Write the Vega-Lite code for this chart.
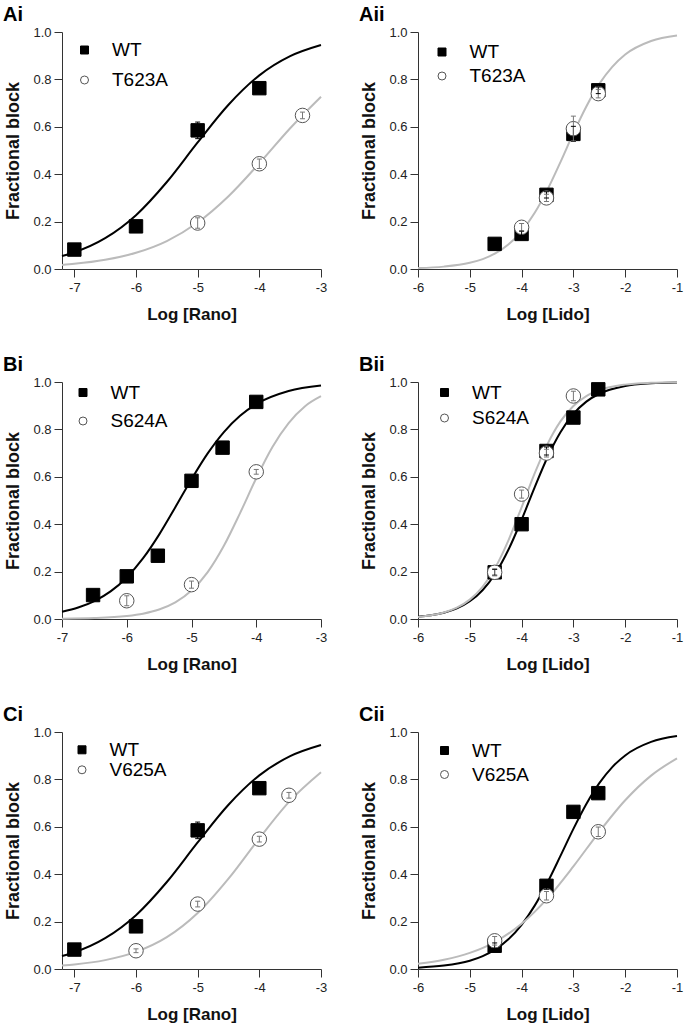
{
"$schema": "https://vega.github.io/schema/vega-lite/v6.json",
"background": "white",
"padding": {"left": 3, "top": 5, "right": 5, "bottom": 5},
"datasets": {
"curves": [
{"panel":"Ai","series":"WT","x":-7.2,"y":0.0545},{"panel":"Ai","series":"WT","x":-7,"y":0.0704},{"panel":"Ai","series":"WT","x":-6.5,"y":0.130},{"panel":"Ai","series":"WT","x":-6,"y":0.227},{"panel":"Ai","series":"WT","x":-5.5,"y":0.367},{"panel":"Ai","series":"WT","x":-5,"y":0.534},{"panel":"Ai","series":"WT","x":-4.5,"y":0.693},{"panel":"Ai","series":"WT","x":-4,"y":0.817},{"panel":"Ai","series":"WT","x":-3.5,"y":0.898},{"panel":"Ai","series":"WT","x":-3,"y":0.945},
{"panel":"Ai","series":"T623A","x":-7.2,"y":0.0172},{"panel":"Ai","series":"T623A","x":-7,"y":0.0217},{"panel":"Ai","series":"T623A","x":-6.5,"y":0.0388},{"panel":"Ai","series":"T623A","x":-6,"y":0.0685},{"panel":"Ai","series":"T623A","x":-5.5,"y":0.118},{"panel":"Ai","series":"T623A","x":-5,"y":0.196},{"panel":"Ai","series":"T623A","x":-4.5,"y":0.307},{"panel":"Ai","series":"T623A","x":-4,"y":0.446},{"panel":"Ai","series":"T623A","x":-3.5,"y":0.594},{"panel":"Ai","series":"T623A","x":-3,"y":0.727},
{"panel":"Aii","series":"T623A","x":-6,"y":0.0038},{"panel":"Aii","series":"T623A","x":-5.5,"y":0.0100},{"panel":"Aii","series":"T623A","x":-5,"y":0.0261},{"panel":"Aii","series":"T623A","x":-4.75,"y":0.0418},{"panel":"Aii","series":"T623A","x":-4.5,"y":0.0665},{"panel":"Aii","series":"T623A","x":-4.25,"y":0.104},{"panel":"Aii","series":"T623A","x":-4,"y":0.159},{"panel":"Aii","series":"T623A","x":-3.75,"y":0.236},{"panel":"Aii","series":"T623A","x":-3.5,"y":0.335},{"panel":"Aii","series":"T623A","x":-3.25,"y":0.451},{"panel":"Aii","series":"T623A","x":-3,"y":0.573},{"panel":"Aii","series":"T623A","x":-2.75,"y":0.686},{"panel":"Aii","series":"T623A","x":-2.5,"y":0.781},{"panel":"Aii","series":"T623A","x":-2.25,"y":0.853},{"panel":"Aii","series":"T623A","x":-2,"y":0.905},{"panel":"Aii","series":"T623A","x":-1.5,"y":0.962},{"panel":"Aii","series":"T623A","x":-1,"y":0.985},
{"panel":"Bi","series":"WT","x":-7,"y":0.0305},{"panel":"Bi","series":"WT","x":-6.75,"y":0.0483},{"panel":"Bi","series":"WT","x":-6.5,"y":0.0756},{"panel":"Bi","series":"WT","x":-6.25,"y":0.1165},{"panel":"Bi","series":"WT","x":-6,"y":0.1754},{"panel":"Bi","series":"WT","x":-5.75,"y":0.2554},{"panel":"Bi","series":"WT","x":-5.5,"y":0.3561},{"panel":"Bi","series":"WT","x":-5.25,"y":0.4714},{"panel":"Bi","series":"WT","x":-5,"y":0.5898},{"panel":"Bi","series":"WT","x":-4.75,"y":0.6987},{"panel":"Bi","series":"WT","x":-4.5,"y":0.7889},{"panel":"Bi","series":"WT","x":-4.25,"y":0.8577},{"panel":"Bi","series":"WT","x":-4,"y":0.9067},{"panel":"Bi","series":"WT","x":-3.5,"y":0.9619},{"panel":"Bi","series":"WT","x":-3,"y":0.985},
{"panel":"Bi","series":"S624A","x":-7,"y":0.0012},{"panel":"Bi","series":"S624A","x":-6.5,"y":0.0039},{"panel":"Bi","series":"S624A","x":-6,"y":0.0126},{"panel":"Bi","series":"S624A","x":-5.75,"y":0.0225},{"panel":"Bi","series":"S624A","x":-5.5,"y":0.040},{"panel":"Bi","series":"S624A","x":-5.25,"y":0.0701},{"panel":"Bi","series":"S624A","x":-5,"y":0.120},{"panel":"Bi","series":"S624A","x":-4.75,"y":0.198},{"panel":"Bi","series":"S624A","x":-4.5,"y":0.309},{"panel":"Bi","series":"S624A","x":-4.25,"y":0.447},{"panel":"Bi","series":"S624A","x":-4,"y":0.594},{"panel":"Bi","series":"S624A","x":-3.75,"y":0.726},{"panel":"Bi","series":"S624A","x":-3.5,"y":0.827},{"panel":"Bi","series":"S624A","x":-3.25,"y":0.897},{"panel":"Bi","series":"S624A","x":-3,"y":0.940},
{"panel":"Bii","series":"WT","x":-6,"y":0.009},{"panel":"Bii","series":"WT","x":-5.75,"y":0.0154},{"panel":"Bii","series":"WT","x":-5.5,"y":0.0264},{"panel":"Bii","series":"WT","x":-5.25,"y":0.0447},{"panel":"Bii","series":"WT","x":-5,"y":0.0748},{"panel":"Bii","series":"WT","x":-4.75,"y":0.1225},{"panel":"Bii","series":"WT","x":-4.5,"y":0.1944},{"panel":"Bii","series":"WT","x":-4.25,"y":0.2942},{"panel":"Bii","series":"WT","x":-4,"y":0.4188},{"panel":"Bii","series":"WT","x":-3.75,"y":0.5545},{"panel":"Bii","series":"WT","x":-3.5,"y":0.6826},{"panel":"Bii","series":"WT","x":-3.25,"y":0.7879},{"panel":"Bii","series":"WT","x":-3,"y":0.8652},{"panel":"Bii","series":"WT","x":-2.75,"y":0.9173},{"panel":"Bii","series":"WT","x":-2.5,"y":0.9504},{"panel":"Bii","series":"WT","x":-2,"y":0.9828},{"panel":"Bii","series":"WT","x":-1.5,"y":0.9942},{"panel":"Bii","series":"WT","x":-1,"y":0.998},
{"panel":"Bii","series":"S624A","x":-6,"y":0.0088},{"panel":"Bii","series":"S624A","x":-5.75,"y":0.0156},{"panel":"Bii","series":"S624A","x":-5.5,"y":0.0274},{"panel":"Bii","series":"S624A","x":-5.25,"y":0.0477},{"panel":"Bii","series":"S624A","x":-5,"y":0.0818},{"panel":"Bii","series":"S624A","x":-4.75,"y":0.1368},{"panel":"Bii","series":"S624A","x":-4.5,"y":0.2199},{"panel":"Bii","series":"S624A","x":-4.25,"y":0.3339},{"panel":"Bii","series":"S624A","x":-4,"y":0.4712},{"panel":"Bii","series":"S624A","x":-3.75,"y":0.6131},{"panel":"Bii","series":"S624A","x":-3.5,"y":0.7381},{"panel":"Bii","series":"S624A","x":-3.25,"y":0.8337},{"panel":"Bii","series":"S624A","x":-3,"y":0.8991},{"panel":"Bii","series":"S624A","x":-2.75,"y":0.9407},{"panel":"Bii","series":"S624A","x":-2.5,"y":0.9657},{"panel":"Bii","series":"S624A","x":-2,"y":0.9889},{"panel":"Bii","series":"S624A","x":-1.5,"y":0.9965},{"panel":"Bii","series":"S624A","x":-1,"y":0.9989},
{"panel":"Ci","series":"WT","x":-7.2,"y":0.0545},{"panel":"Ci","series":"WT","x":-7,"y":0.0704},{"panel":"Ci","series":"WT","x":-6.5,"y":0.130},{"panel":"Ci","series":"WT","x":-6,"y":0.227},{"panel":"Ci","series":"WT","x":-5.5,"y":0.367},{"panel":"Ci","series":"WT","x":-5,"y":0.534},{"panel":"Ci","series":"WT","x":-4.5,"y":0.693},{"panel":"Ci","series":"WT","x":-4,"y":0.817},{"panel":"Ci","series":"WT","x":-3.5,"y":0.898},{"panel":"Ci","series":"WT","x":-3,"y":0.945},
{"panel":"Ci","series":"V625A","x":-7.2,"y":0.0146},{"panel":"Ci","series":"V625A","x":-7,"y":0.0191},{"panel":"Ci","series":"V625A","x":-6.5,"y":0.0374},{"panel":"Ci","series":"V625A","x":-6,"y":0.0720},{"panel":"Ci","series":"V625A","x":-5.5,"y":0.1341},{"panel":"Ci","series":"V625A","x":-5,"y":0.2361},{"panel":"Ci","series":"V625A","x":-4.5,"y":0.3814},{"panel":"Ci","series":"V625A","x":-4,"y":0.5517},{"panel":"Ci","series":"V625A","x":-3.5,"y":0.7106},{"panel":"Ci","series":"V625A","x":-3,"y":0.8304},
{"panel":"Cii","series":"WT","x":-6,"y":0.0057},{"panel":"Cii","series":"WT","x":-5.5,"y":0.0143},{"panel":"Cii","series":"WT","x":-5,"y":0.035},{"panel":"Cii","series":"WT","x":-4.75,"y":0.0544},{"panel":"Cii","series":"WT","x":-4.5,"y":0.0836},{"panel":"Cii","series":"WT","x":-4.25,"y":0.1263},{"panel":"Cii","series":"WT","x":-4,"y":0.1864},{"panel":"Cii","series":"WT","x":-3.75,"y":0.2664},{"panel":"Cii","series":"WT","x":-3.5,"y":0.3652},{"panel":"Cii","series":"WT","x":-3.25,"y":0.4771},{"panel":"Cii","series":"WT","x":-3,"y":0.5911},{"panel":"Cii","series":"WT","x":-2.75,"y":0.6961},{"panel":"Cii","series":"WT","x":-2.5,"y":0.7841},{"panel":"Cii","series":"WT","x":-2.25,"y":0.852},{"panel":"Cii","series":"WT","x":-2,"y":0.9012},{"panel":"Cii","series":"WT","x":-1.5,"y":0.9582},{"panel":"Cii","series":"WT","x":-1,"y":0.9829},
{"panel":"Cii","series":"V625A","x":-6,"y":0.022},{"panel":"Cii","series":"V625A","x":-5.5,"y":0.039},{"panel":"Cii","series":"V625A","x":-5,"y":0.068},{"panel":"Cii","series":"V625A","x":-4.5,"y":0.116},{"panel":"Cii","series":"V625A","x":-4,"y":0.191},{"panel":"Cii","series":"V625A","x":-3.5,"y":0.298},{"panel":"Cii","series":"V625A","x":-3,"y":0.433},{"panel":"Cii","series":"V625A","x":-2.5,"y":0.579},{"panel":"Cii","series":"V625A","x":-2,"y":0.712},{"panel":"Cii","series":"V625A","x":-1.5,"y":0.816},{"panel":"Cii","series":"V625A","x":-1,"y":0.889}
],
"points": [
{"panel":"Ai","series":"WT","x":-7,"y":0.082,"lo":0.072,"hi":0.092},{"panel":"Ai","series":"WT","x":-6,"y":0.18,"lo":0.17,"hi":0.19},{"panel":"Ai","series":"WT","x":-5,"y":0.585,"lo":0.55,"hi":0.62},{"panel":"Ai","series":"WT","x":-4,"y":0.763,"lo":0.748,"hi":0.778},
{"panel":"Ai","series":"T623A","x":-5,"y":0.194,"lo":0.172,"hi":0.216},{"panel":"Ai","series":"T623A","x":-4,"y":0.444,"lo":0.424,"hi":0.464},{"panel":"Ai","series":"T623A","x":-3.3,"y":0.648,"lo":0.634,"hi":0.662},
{"panel":"Aii","series":"WT","x":-4.52,"y":0.106,"lo":0.096,"hi":0.116},{"panel":"Aii","series":"WT","x":-4,"y":0.148,"lo":0.136,"hi":0.16},{"panel":"Aii","series":"WT","x":-3.52,"y":0.313,"lo":0.3,"hi":0.326},{"panel":"Aii","series":"WT","x":-3,"y":0.57,"lo":0.538,"hi":0.602},{"panel":"Aii","series":"WT","x":-2.52,"y":0.754,"lo":0.74,"hi":0.768},
{"panel":"Aii","series":"T623A","x":-4,"y":0.176,"lo":0.16,"hi":0.192},{"panel":"Aii","series":"T623A","x":-3.52,"y":0.30,"lo":0.285,"hi":0.315},{"panel":"Aii","series":"T623A","x":-3,"y":0.592,"lo":0.54,"hi":0.645},{"panel":"Aii","series":"T623A","x":-2.52,"y":0.74,"lo":0.722,"hi":0.758},
{"panel":"Bi","series":"WT","x":-6.52,"y":0.101,"lo":0.081,"hi":0.121},{"panel":"Bi","series":"WT","x":-6,"y":0.18,"lo":0.16,"hi":0.2},{"panel":"Bi","series":"WT","x":-5.52,"y":0.267,"lo":0.245,"hi":0.289},{"panel":"Bi","series":"WT","x":-5,"y":0.583,"lo":0.563,"hi":0.603},{"panel":"Bi","series":"WT","x":-4.52,"y":0.723,"lo":0.701,"hi":0.745},{"panel":"Bi","series":"WT","x":-4,"y":0.916,"lo":0.896,"hi":0.936},
{"panel":"Bi","series":"S624A","x":-6,"y":0.077,"lo":0.056,"hi":0.098},{"panel":"Bi","series":"S624A","x":-5,"y":0.145,"lo":0.13,"hi":0.16},{"panel":"Bi","series":"S624A","x":-4,"y":0.621,"lo":0.611,"hi":0.631},
{"panel":"Bii","series":"WT","x":-4.52,"y":0.197,"lo":0.185,"hi":0.209},{"panel":"Bii","series":"WT","x":-4,"y":0.40,"lo":0.386,"hi":0.414},{"panel":"Bii","series":"WT","x":-3.52,"y":0.709,"lo":0.692,"hi":0.726},{"panel":"Bii","series":"WT","x":-3,"y":0.85,"lo":0.836,"hi":0.864},{"panel":"Bii","series":"WT","x":-2.52,"y":0.969,"lo":0.959,"hi":0.979},
{"panel":"Bii","series":"S624A","x":-4.52,"y":0.197,"lo":0.182,"hi":0.212},{"panel":"Bii","series":"S624A","x":-4,"y":0.527,"lo":0.51,"hi":0.544},{"panel":"Bii","series":"S624A","x":-3.52,"y":0.70,"lo":0.684,"hi":0.716},{"panel":"Bii","series":"S624A","x":-3,"y":0.941,"lo":0.921,"hi":0.961},
{"panel":"Ci","series":"WT","x":-7,"y":0.082,"lo":0.072,"hi":0.092},{"panel":"Ci","series":"WT","x":-6,"y":0.18,"lo":0.17,"hi":0.19},{"panel":"Ci","series":"WT","x":-5,"y":0.585,"lo":0.55,"hi":0.62},{"panel":"Ci","series":"WT","x":-4,"y":0.763,"lo":0.748,"hi":0.778},
{"panel":"Ci","series":"V625A","x":-6,"y":0.077,"lo":0.069,"hi":0.085},{"panel":"Ci","series":"V625A","x":-5,"y":0.274,"lo":0.262,"hi":0.286},{"panel":"Ci","series":"V625A","x":-4,"y":0.548,"lo":0.536,"hi":0.56},{"panel":"Ci","series":"V625A","x":-3.52,"y":0.733,"lo":0.721,"hi":0.745},
{"panel":"Cii","series":"WT","x":-4.52,"y":0.098,"lo":0.086,"hi":0.11},{"panel":"Cii","series":"WT","x":-3.52,"y":0.351,"lo":0.336,"hi":0.366},{"panel":"Cii","series":"WT","x":-3,"y":0.663,"lo":0.645,"hi":0.681},{"panel":"Cii","series":"WT","x":-2.52,"y":0.742,"lo":0.724,"hi":0.76},
{"panel":"Cii","series":"V625A","x":-4.52,"y":0.119,"lo":0.101,"hi":0.137},{"panel":"Cii","series":"V625A","x":-3.52,"y":0.309,"lo":0.291,"hi":0.327},{"panel":"Cii","series":"V625A","x":-2.52,"y":0.579,"lo":0.559,"hi":0.599}
]
},
"columns": 2,
"spacing": {"row": 113, "column": 97},
"bounds": "flush",
"resolve": {"scale": {"x": "independent", "y": "independent", "shape": "independent", "fill": "independent", "stroke": "independent"}, "legend": {"shape": "independent", "fill": "independent", "stroke": "independent"}, "axis": {"x": "independent", "y": "independent"}},
"concat": [
{"width":259,"height":237,
 "title":{"text":"Ai","anchor":"start","frame":"group","dx":-59,"fontSize":20,"fontWeight":"bold","font":"Liberation Sans","color":"#000","offset":1},
 "layer":[
  {"data":{"name":"curves"},"transform":[{"filter":"datum.panel==='Ai'"}],"mark":{"type":"line","interpolate":"monotone","strokeWidth":2},
   "encoding":{"x":{"field":"x","type":"quantitative","scale":{"domain":[-7.2,-3],"nice":false,"zero":false},"axis":{"title":"Log [Rano]","values":[-7,-6.5,-6,-5.5,-5,-4.5,-4,-3.5,-3],"labelExpr":"datum.value % 1 == 0 ? '-' + abs(datum.value) : ''","tickSize":{"condition":{"test":"datum.value % 1 == 0","value":8},"value":4}}},
    "y":{"field":"y","type":"quantitative","scale":{"domain":[0,1],"nice":false},"axis":{"title":"Fractional block","values":[0,0.1,0.2,0.3,0.4,0.5,0.6,0.7,0.8,0.9,1],"labelExpr":"round(datum.value*10) % 2 == 0 ? format(datum.value, '.1f') : ''","tickSize":{"condition":{"test":"round(datum.value*10) % 2 == 0","value":8},"value":4}}},
    "detail":{"field":"series","type":"nominal"},
    "color":{"condition":{"test":"datum.series === 'WT'","value":"#000"},"value":"#bbbbbb"}}},
  {"data":{"name":"points"},"transform":[{"filter":"datum.panel==='Ai'"}],"mark":{"type":"point","strokeWidth":1,"opacity":1},
   "encoding":{"x":{"field":"x","type":"quantitative"},"y":{"field":"y","type":"quantitative"},
    "shape":{"field":"series","type":"nominal","scale":{"domain":["WT","T623A"],"range":["square","circle"]},"legend":{"title":null,"orient":"none","legendX":13,"legendY":8.5,"symbolSize":64,"symbolStrokeWidth":1,"labelFont":"Liberation Sans","labelFontSize":19,"labelColor":"#000","labelOffset":18,"rowPadding":10,"padding":0,"encode":{"symbols":{"stroke":{"condition":{"test":"datum.value === 'WT'","value":"#000"},"value":"#a8a8a8"}}}}},
    "fill":{"field":"series","type":"nominal","scale":{"domain":["WT","T623A"],"range":["#000000","#ffffff"]}},
    "stroke":{"field":"series","type":"nominal","scale":{"domain":["WT","T623A"],"range":["#000000","#555555"]}},
    "size":{"condition":{"test":"datum.series === 'WT'","value":180},"value":210}}},
  {"data":{"name":"points"},"transform":[{"filter":"datum.panel==='Ai'"}],"mark":{"type":"rule","strokeWidth":1},
   "encoding":{"x":{"field":"x","type":"quantitative"},"y":{"field":"lo","type":"quantitative"},"y2":{"field":"hi"},"color":{"condition":{"test":"datum.series === 'WT'","value":"#000"},"value":"#777"}}},
  {"data":{"name":"points"},"transform":[{"filter":"datum.panel==='Ai'"}],"mark":{"type":"tick","orient":"horizontal","size":5,"thickness":1,"opacity":1},
   "encoding":{"x":{"field":"x","type":"quantitative"},"y":{"field":"lo","type":"quantitative"},"color":{"condition":{"test":"datum.series === 'WT'","value":"#000"},"value":"#777"}}},
  {"data":{"name":"points"},"transform":[{"filter":"datum.panel==='Ai'"}],"mark":{"type":"tick","orient":"horizontal","size":5,"thickness":1,"opacity":1},
   "encoding":{"x":{"field":"x","type":"quantitative"},"y":{"field":"hi","type":"quantitative"},"color":{"condition":{"test":"datum.series === 'WT'","value":"#000"},"value":"#777"}}}
 ]},
{"width":259,"height":237,
 "title":{"text":"Aii","anchor":"start","frame":"group","dx":-59,"fontSize":20,"fontWeight":"bold","font":"Liberation Sans","color":"#000","offset":1},
 "layer":[
  {"data":{"name":"curves"},"transform":[{"filter":"datum.panel==='Aii'"}],"mark":{"type":"line","interpolate":"monotone","strokeWidth":2},
   "encoding":{"x":{"field":"x","type":"quantitative","scale":{"domain":[-6,-1],"nice":false,"zero":false},"axis":{"title":"Log [Lido]","values":[-6,-5.5,-5,-4.5,-4,-3.5,-3,-2.5,-2,-1.5,-1],"labelExpr":"datum.value % 1 == 0 ? '-' + abs(datum.value) : ''","tickSize":{"condition":{"test":"datum.value % 1 == 0","value":8},"value":4}}},
    "y":{"field":"y","type":"quantitative","scale":{"domain":[0,1],"nice":false},"axis":{"title":"Fractional block","values":[0,0.1,0.2,0.3,0.4,0.5,0.6,0.7,0.8,0.9,1],"labelExpr":"round(datum.value*10) % 2 == 0 ? format(datum.value, '.1f') : ''","tickSize":{"condition":{"test":"round(datum.value*10) % 2 == 0","value":8},"value":4}}},
    "detail":{"field":"series","type":"nominal"},
    "color":{"condition":{"test":"datum.series === 'WT'","value":"#000"},"value":"#bbbbbb"}}},
  {"data":{"name":"points"},"transform":[{"filter":"datum.panel==='Aii'"}],"mark":{"type":"point","strokeWidth":1,"opacity":1},
   "encoding":{"x":{"field":"x","type":"quantitative"},"y":{"field":"y","type":"quantitative"},
    "shape":{"field":"series","type":"nominal","scale":{"domain":["WT","T623A"],"range":["square","circle"]},"legend":{"title":null,"orient":"none","legendX":14.5,"legendY":10.5,"symbolSize":64,"symbolStrokeWidth":1,"labelFont":"Liberation Sans","labelFontSize":19,"labelColor":"#000","labelOffset":18,"rowPadding":4,"padding":0,"encode":{"symbols":{"stroke":{"condition":{"test":"datum.value === 'WT'","value":"#000"},"value":"#a8a8a8"}}}}},
    "fill":{"field":"series","type":"nominal","scale":{"domain":["WT","T623A"],"range":["#000000","#ffffff"]}},
    "stroke":{"field":"series","type":"nominal","scale":{"domain":["WT","T623A"],"range":["#000000","#555555"]}},
    "size":{"condition":{"test":"datum.series === 'WT'","value":180},"value":210}}},
  {"data":{"name":"points"},"transform":[{"filter":"datum.panel==='Aii'"}],"mark":{"type":"rule","strokeWidth":1},
   "encoding":{"x":{"field":"x","type":"quantitative"},"y":{"field":"lo","type":"quantitative"},"y2":{"field":"hi"},"color":{"condition":{"test":"datum.series === 'WT'","value":"#000"},"value":"#777"}}},
  {"data":{"name":"points"},"transform":[{"filter":"datum.panel==='Aii'"}],"mark":{"type":"tick","orient":"horizontal","size":5,"thickness":1,"opacity":1},
   "encoding":{"x":{"field":"x","type":"quantitative"},"y":{"field":"lo","type":"quantitative"},"color":{"condition":{"test":"datum.series === 'WT'","value":"#000"},"value":"#777"}}},
  {"data":{"name":"points"},"transform":[{"filter":"datum.panel==='Aii'"}],"mark":{"type":"tick","orient":"horizontal","size":5,"thickness":1,"opacity":1},
   "encoding":{"x":{"field":"x","type":"quantitative"},"y":{"field":"hi","type":"quantitative"},"color":{"condition":{"test":"datum.series === 'WT'","value":"#000"},"value":"#777"}}}
 ]},
{"width":259,"height":237,
 "title":{"text":"Bi","anchor":"start","frame":"group","dx":-59,"fontSize":20,"fontWeight":"bold","font":"Liberation Sans","color":"#000","offset":1},
 "layer":[
  {"data":{"name":"curves"},"transform":[{"filter":"datum.panel==='Bi'"}],"mark":{"type":"line","interpolate":"monotone","strokeWidth":2},
   "encoding":{"x":{"field":"x","type":"quantitative","scale":{"domain":[-7,-3],"nice":false,"zero":false},"axis":{"title":"Log [Rano]","values":[-7,-6.5,-6,-5.5,-5,-4.5,-4,-3.5,-3],"labelExpr":"datum.value % 1 == 0 ? '-' + abs(datum.value) : ''","tickSize":{"condition":{"test":"datum.value % 1 == 0","value":8},"value":4}}},
    "y":{"field":"y","type":"quantitative","scale":{"domain":[0,1],"nice":false},"axis":{"title":"Fractional block","values":[0,0.1,0.2,0.3,0.4,0.5,0.6,0.7,0.8,0.9,1],"labelExpr":"round(datum.value*10) % 2 == 0 ? format(datum.value, '.1f') : ''","tickSize":{"condition":{"test":"round(datum.value*10) % 2 == 0","value":8},"value":4}}},
    "detail":{"field":"series","type":"nominal"},
    "color":{"condition":{"test":"datum.series === 'WT'","value":"#000"},"value":"#bbbbbb"}}},
  {"data":{"name":"points"},"transform":[{"filter":"datum.panel==='Bi'"}],"mark":{"type":"point","strokeWidth":1,"opacity":1},
   "encoding":{"x":{"field":"x","type":"quantitative"},"y":{"field":"y","type":"quantitative"},
    "shape":{"field":"series","type":"nominal","scale":{"domain":["WT","S624A"],"range":["square","circle"]},"legend":{"title":null,"orient":"none","legendX":11.5,"legendY":1,"symbolSize":64,"symbolStrokeWidth":1,"labelFont":"Liberation Sans","labelFontSize":19,"labelColor":"#000","labelOffset":18,"rowPadding":8.5,"padding":0,"encode":{"symbols":{"stroke":{"condition":{"test":"datum.value === 'WT'","value":"#000"},"value":"#a8a8a8"}}}}},
    "fill":{"field":"series","type":"nominal","scale":{"domain":["WT","S624A"],"range":["#000000","#ffffff"]}},
    "stroke":{"field":"series","type":"nominal","scale":{"domain":["WT","S624A"],"range":["#000000","#555555"]}},
    "size":{"condition":{"test":"datum.series === 'WT'","value":180},"value":210}}},
  {"data":{"name":"points"},"transform":[{"filter":"datum.panel==='Bi'"}],"mark":{"type":"rule","strokeWidth":1},
   "encoding":{"x":{"field":"x","type":"quantitative"},"y":{"field":"lo","type":"quantitative"},"y2":{"field":"hi"},"color":{"condition":{"test":"datum.series === 'WT'","value":"#000"},"value":"#777"}}},
  {"data":{"name":"points"},"transform":[{"filter":"datum.panel==='Bi'"}],"mark":{"type":"tick","orient":"horizontal","size":5,"thickness":1,"opacity":1},
   "encoding":{"x":{"field":"x","type":"quantitative"},"y":{"field":"lo","type":"quantitative"},"color":{"condition":{"test":"datum.series === 'WT'","value":"#000"},"value":"#777"}}},
  {"data":{"name":"points"},"transform":[{"filter":"datum.panel==='Bi'"}],"mark":{"type":"tick","orient":"horizontal","size":5,"thickness":1,"opacity":1},
   "encoding":{"x":{"field":"x","type":"quantitative"},"y":{"field":"hi","type":"quantitative"},"color":{"condition":{"test":"datum.series === 'WT'","value":"#000"},"value":"#777"}}}
 ]},
{"width":259,"height":237,
 "title":{"text":"Bii","anchor":"start","frame":"group","dx":-59,"fontSize":20,"fontWeight":"bold","font":"Liberation Sans","color":"#000","offset":1},
 "layer":[
  {"data":{"name":"curves"},"transform":[{"filter":"datum.panel==='Bii'"}],"mark":{"type":"line","interpolate":"monotone","strokeWidth":2},
   "encoding":{"x":{"field":"x","type":"quantitative","scale":{"domain":[-6,-1],"nice":false,"zero":false},"axis":{"title":"Log [Lido]","values":[-6,-5.5,-5,-4.5,-4,-3.5,-3,-2.5,-2,-1.5,-1],"labelExpr":"datum.value % 1 == 0 ? '-' + abs(datum.value) : ''","tickSize":{"condition":{"test":"datum.value % 1 == 0","value":8},"value":4}}},
    "y":{"field":"y","type":"quantitative","scale":{"domain":[0,1],"nice":false},"axis":{"title":"Fractional block","values":[0,0.1,0.2,0.3,0.4,0.5,0.6,0.7,0.8,0.9,1],"labelExpr":"round(datum.value*10) % 2 == 0 ? format(datum.value, '.1f') : ''","tickSize":{"condition":{"test":"round(datum.value*10) % 2 == 0","value":8},"value":4}}},
    "detail":{"field":"series","type":"nominal"},
    "color":{"condition":{"test":"datum.series === 'WT'","value":"#000"},"value":"#bbbbbb"}}},
  {"data":{"name":"points"},"transform":[{"filter":"datum.panel==='Bii'"}],"mark":{"type":"point","strokeWidth":1,"opacity":1},
   "encoding":{"x":{"field":"x","type":"quantitative"},"y":{"field":"y","type":"quantitative"},
    "shape":{"field":"series","type":"nominal","scale":{"domain":["WT","S624A"],"range":["square","circle"]},"legend":{"title":null,"orient":"none","legendX":17,"legendY":1,"symbolSize":64,"symbolStrokeWidth":1,"labelFont":"Liberation Sans","labelFontSize":19,"labelColor":"#000","labelOffset":18,"rowPadding":5.5,"padding":0,"encode":{"symbols":{"stroke":{"condition":{"test":"datum.value === 'WT'","value":"#000"},"value":"#a8a8a8"}}}}},
    "fill":{"field":"series","type":"nominal","scale":{"domain":["WT","S624A"],"range":["#000000","#ffffff"]}},
    "stroke":{"field":"series","type":"nominal","scale":{"domain":["WT","S624A"],"range":["#000000","#555555"]}},
    "size":{"condition":{"test":"datum.series === 'WT'","value":180},"value":210}}},
  {"data":{"name":"points"},"transform":[{"filter":"datum.panel==='Bii'"}],"mark":{"type":"rule","strokeWidth":1},
   "encoding":{"x":{"field":"x","type":"quantitative"},"y":{"field":"lo","type":"quantitative"},"y2":{"field":"hi"},"color":{"condition":{"test":"datum.series === 'WT'","value":"#000"},"value":"#777"}}},
  {"data":{"name":"points"},"transform":[{"filter":"datum.panel==='Bii'"}],"mark":{"type":"tick","orient":"horizontal","size":5,"thickness":1,"opacity":1},
   "encoding":{"x":{"field":"x","type":"quantitative"},"y":{"field":"lo","type":"quantitative"},"color":{"condition":{"test":"datum.series === 'WT'","value":"#000"},"value":"#777"}}},
  {"data":{"name":"points"},"transform":[{"filter":"datum.panel==='Bii'"}],"mark":{"type":"tick","orient":"horizontal","size":5,"thickness":1,"opacity":1},
   "encoding":{"x":{"field":"x","type":"quantitative"},"y":{"field":"hi","type":"quantitative"},"color":{"condition":{"test":"datum.series === 'WT'","value":"#000"},"value":"#777"}}}
 ]},
{"width":259,"height":237,
 "title":{"text":"Ci","anchor":"start","frame":"group","dx":-59,"fontSize":20,"fontWeight":"bold","font":"Liberation Sans","color":"#000","offset":1},
 "layer":[
  {"data":{"name":"curves"},"transform":[{"filter":"datum.panel==='Ci'"}],"mark":{"type":"line","interpolate":"monotone","strokeWidth":2},
   "encoding":{"x":{"field":"x","type":"quantitative","scale":{"domain":[-7.2,-3],"nice":false,"zero":false},"axis":{"title":"Log [Rano]","values":[-7,-6.5,-6,-5.5,-5,-4.5,-4,-3.5,-3],"labelExpr":"datum.value % 1 == 0 ? '-' + abs(datum.value) : ''","tickSize":{"condition":{"test":"datum.value % 1 == 0","value":8},"value":4}}},
    "y":{"field":"y","type":"quantitative","scale":{"domain":[0,1],"nice":false},"axis":{"title":"Fractional block","values":[0,0.1,0.2,0.3,0.4,0.5,0.6,0.7,0.8,0.9,1],"labelExpr":"round(datum.value*10) % 2 == 0 ? format(datum.value, '.1f') : ''","tickSize":{"condition":{"test":"round(datum.value*10) % 2 == 0","value":8},"value":4}}},
    "detail":{"field":"series","type":"nominal"},
    "color":{"condition":{"test":"datum.series === 'WT'","value":"#000"},"value":"#bbbbbb"}}},
  {"data":{"name":"points"},"transform":[{"filter":"datum.panel==='Ci'"}],"mark":{"type":"point","strokeWidth":1,"opacity":1},
   "encoding":{"x":{"field":"x","type":"quantitative"},"y":{"field":"y","type":"quantitative"},
    "shape":{"field":"series","type":"nominal","scale":{"domain":["WT","V625A"],"range":["square","circle"]},"legend":{"title":null,"orient":"none","legendX":10.5,"legendY":8.3,"symbolSize":64,"symbolStrokeWidth":1,"labelFont":"Liberation Sans","labelFontSize":19,"labelColor":"#000","labelOffset":18,"rowPadding":0,"padding":0,"encode":{"symbols":{"stroke":{"condition":{"test":"datum.value === 'WT'","value":"#000"},"value":"#a8a8a8"}}}}},
    "fill":{"field":"series","type":"nominal","scale":{"domain":["WT","V625A"],"range":["#000000","#ffffff"]}},
    "stroke":{"field":"series","type":"nominal","scale":{"domain":["WT","V625A"],"range":["#000000","#555555"]}},
    "size":{"condition":{"test":"datum.series === 'WT'","value":180},"value":210}}},
  {"data":{"name":"points"},"transform":[{"filter":"datum.panel==='Ci'"}],"mark":{"type":"rule","strokeWidth":1},
   "encoding":{"x":{"field":"x","type":"quantitative"},"y":{"field":"lo","type":"quantitative"},"y2":{"field":"hi"},"color":{"condition":{"test":"datum.series === 'WT'","value":"#000"},"value":"#777"}}},
  {"data":{"name":"points"},"transform":[{"filter":"datum.panel==='Ci'"}],"mark":{"type":"tick","orient":"horizontal","size":5,"thickness":1,"opacity":1},
   "encoding":{"x":{"field":"x","type":"quantitative"},"y":{"field":"lo","type":"quantitative"},"color":{"condition":{"test":"datum.series === 'WT'","value":"#000"},"value":"#777"}}},
  {"data":{"name":"points"},"transform":[{"filter":"datum.panel==='Ci'"}],"mark":{"type":"tick","orient":"horizontal","size":5,"thickness":1,"opacity":1},
   "encoding":{"x":{"field":"x","type":"quantitative"},"y":{"field":"hi","type":"quantitative"},"color":{"condition":{"test":"datum.series === 'WT'","value":"#000"},"value":"#777"}}}
 ]},
{"width":259,"height":237,
 "title":{"text":"Cii","anchor":"start","frame":"group","dx":-59,"fontSize":20,"fontWeight":"bold","font":"Liberation Sans","color":"#000","offset":1},
 "layer":[
  {"data":{"name":"curves"},"transform":[{"filter":"datum.panel==='Cii'"}],"mark":{"type":"line","interpolate":"monotone","strokeWidth":2},
   "encoding":{"x":{"field":"x","type":"quantitative","scale":{"domain":[-6,-1],"nice":false,"zero":false},"axis":{"title":"Log [Lido]","values":[-6,-5.5,-5,-4.5,-4,-3.5,-3,-2.5,-2,-1.5,-1],"labelExpr":"datum.value % 1 == 0 ? '-' + abs(datum.value) : ''","tickSize":{"condition":{"test":"datum.value % 1 == 0","value":8},"value":4}}},
    "y":{"field":"y","type":"quantitative","scale":{"domain":[0,1],"nice":false},"axis":{"title":"Fractional block","values":[0,0.1,0.2,0.3,0.4,0.5,0.6,0.7,0.8,0.9,1],"labelExpr":"round(datum.value*10) % 2 == 0 ? format(datum.value, '.1f') : ''","tickSize":{"condition":{"test":"round(datum.value*10) % 2 == 0","value":8},"value":4}}},
    "detail":{"field":"series","type":"nominal"},
    "color":{"condition":{"test":"datum.series === 'WT'","value":"#000"},"value":"#bbbbbb"}}},
  {"data":{"name":"points"},"transform":[{"filter":"datum.panel==='Cii'"}],"mark":{"type":"point","strokeWidth":1,"opacity":1},
   "encoding":{"x":{"field":"x","type":"quantitative"},"y":{"field":"y","type":"quantitative"},
    "shape":{"field":"series","type":"nominal","scale":{"domain":["WT","V625A"],"range":["square","circle"]},"legend":{"title":null,"orient":"none","legendX":17,"legendY":9,"symbolSize":64,"symbolStrokeWidth":1,"labelFont":"Liberation Sans","labelFontSize":19,"labelColor":"#000","labelOffset":18,"rowPadding":4,"padding":0,"encode":{"symbols":{"stroke":{"condition":{"test":"datum.value === 'WT'","value":"#000"},"value":"#a8a8a8"}}}}},
    "fill":{"field":"series","type":"nominal","scale":{"domain":["WT","V625A"],"range":["#000000","#ffffff"]}},
    "stroke":{"field":"series","type":"nominal","scale":{"domain":["WT","V625A"],"range":["#000000","#555555"]}},
    "size":{"condition":{"test":"datum.series === 'WT'","value":180},"value":210}}},
  {"data":{"name":"points"},"transform":[{"filter":"datum.panel==='Cii'"}],"mark":{"type":"rule","strokeWidth":1},
   "encoding":{"x":{"field":"x","type":"quantitative"},"y":{"field":"lo","type":"quantitative"},"y2":{"field":"hi"},"color":{"condition":{"test":"datum.series === 'WT'","value":"#000"},"value":"#777"}}},
  {"data":{"name":"points"},"transform":[{"filter":"datum.panel==='Cii'"}],"mark":{"type":"tick","orient":"horizontal","size":5,"thickness":1,"opacity":1},
   "encoding":{"x":{"field":"x","type":"quantitative"},"y":{"field":"lo","type":"quantitative"},"color":{"condition":{"test":"datum.series === 'WT'","value":"#000"},"value":"#777"}}},
  {"data":{"name":"points"},"transform":[{"filter":"datum.panel==='Cii'"}],"mark":{"type":"tick","orient":"horizontal","size":5,"thickness":1,"opacity":1},
   "encoding":{"x":{"field":"x","type":"quantitative"},"y":{"field":"hi","type":"quantitative"},"color":{"condition":{"test":"datum.series === 'WT'","value":"#000"},"value":"#777"}}}
 ]}
],
"config": {
 "font": "Liberation Sans",
 "view": {"stroke": null},
 "axis": {"grid": false, "domainColor": "#333", "tickColor": "#333", "domainWidth": 1, "tickWidth": 1, "labelFont": "Liberation Sans", "labelFontSize": 13, "labelColor": "#222", "titleFont": "Liberation Sans", "titleFontWeight": "bold", "titleColor": "#111", "labelFlush": false, "labelOverlap": false},
 "axisX": {"labelPadding": 4, "titlePadding": 12, "titleFontSize": 17},
 "axisY": {"labelPadding": 3, "titlePadding": 10, "titleFontSize": 18}
}
}
